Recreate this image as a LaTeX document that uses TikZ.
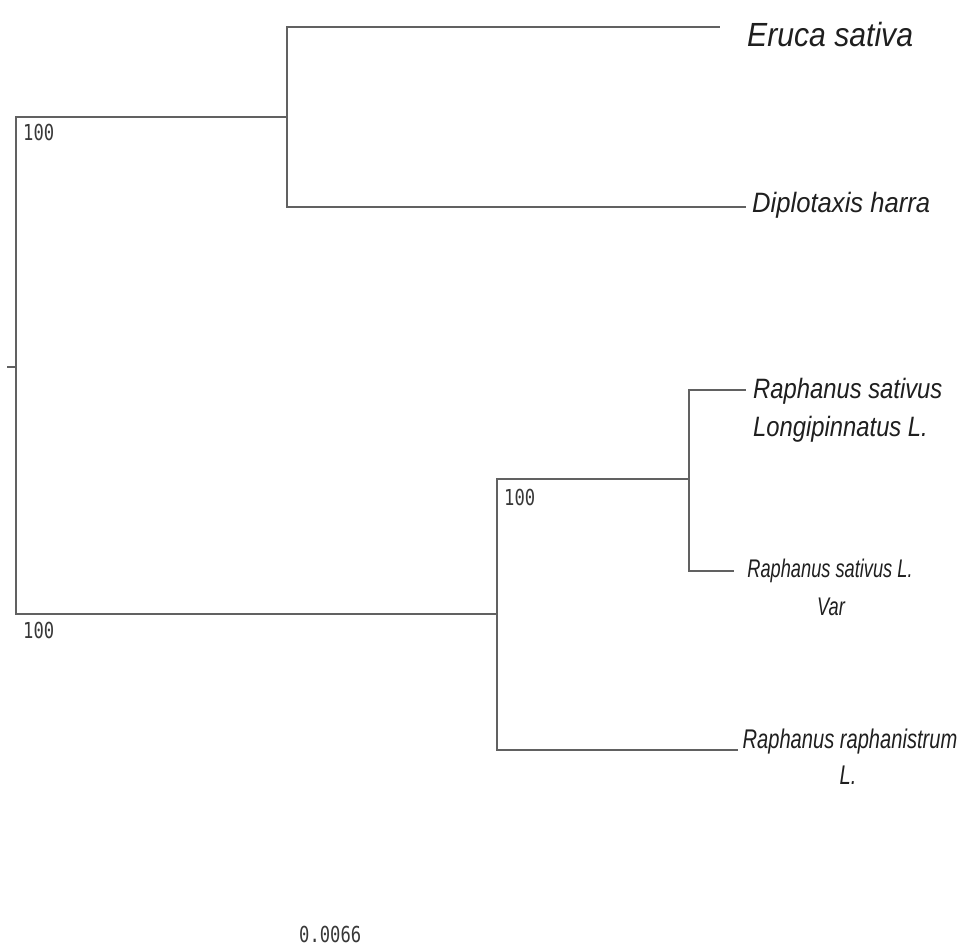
\documentclass[tikz,border=0pt]{standalone}
\usepackage{fontspec}
\newfontfamily\labA[FakeStretch=0.90]{Liberation Sans}
\newfontfamily\labB[FakeStretch=0.915]{Liberation Sans}
\newfontfamily\labC[FakeStretch=0.85]{Liberation Sans}
\newfontfamily\labD[FakeStretch=0.715]{Liberation Sans}
\newfontfamily\labE[FakeStretch=0.745]{Liberation Sans}
\newfontfamily\numf[FakeStretch=0.78]{DejaVu Sans Mono}
\begin{document}
\begin{tikzpicture}[x=1pt,y=-1pt,
  branch/.style={draw=black!62, line width=1.8pt, line cap=rect},
  leaflab/.style={inner sep=0pt, text=black!88},
  boot/.style={inner sep=0pt, anchor=north west, text=black!78, font=\numf\fontsize{22}{22}\selectfont}]
\useasboundingbox[fill=white] (0,0) rectangle (973,949);
% internal node positions
\coordinate (stub) at (8,367);
\coordinate (root) at (16,367);
\coordinate (rtop) at (16,117);
\coordinate (rbot) at (16,614);
\coordinate (n1) at (287,117);
\coordinate (n1t) at (287,27);
\coordinate (n1b) at (287,207);
\coordinate (n2) at (497,614);
\coordinate (n2t) at (497,479);
\coordinate (n2b) at (497,750);
\coordinate (n3) at (689,479);
\coordinate (n3t) at (689,390);
\coordinate (n3b) at (689,571);
% leaf tips
\coordinate (eruca) at (719,27);
\coordinate (diplo) at (745,207);
\coordinate (rslong) at (745,390);
\coordinate (rsvar) at (733,571);
\coordinate (rraph) at (737,750);
% branches
\draw[branch] (stub) -- (root);
\draw[branch] (rtop) -- (rbot);
\draw[branch] (rtop) -- (n1);
\draw[branch] (n1t) -- (n1b);
\draw[branch] (n1t) -- (eruca);
\draw[branch] (n1b) -- (diplo);
\draw[branch] (rbot) -- (n2);
\draw[branch] (n2t) -- (n2b);
\draw[branch] (n2t) -- (n3);
\draw[branch] (n3t) -- (n3b);
\draw[branch] (n3t) -- (rslong);
\draw[branch] (n3b) -- (rsvar);
\draw[branch] (n2b) -- (rraph);
% leaf labels
\node[leaflab, anchor=base west, font=\labA\itshape\fontsize{33.5}{33.5}\selectfont] (lab1) at (747,47) {Eruca sativa};
\node[leaflab, anchor=base west, font=\labB\itshape\fontsize{28}{28}\selectfont] (lab2) at (752,213) {Diplotaxis harra};
\node[leaflab, anchor=base west, font=\labC\itshape\fontsize{28}{28}\selectfont] (lab3a) at (753,398) {Raphanus sativus};
\node[leaflab, anchor=base west, font=\labC\itshape\fontsize{28}{28}\selectfont] (lab3b) at (753,436) {Longipinnatus L.};
\node[leaflab, anchor=base, font=\labD\itshape\fontsize{25.5}{25.5}\selectfont] (lab4a) at (830,577) {Raphanus sativus L.};
\node[leaflab, anchor=base, font=\labD\itshape\fontsize{25.5}{25.5}\selectfont] (lab4b) at (831,615) {Var};
\node[leaflab, anchor=base, font=\labE\itshape\fontsize{27}{27}\selectfont] (lab5a) at (850,748) {Raphanus raphanistrum};
\node[leaflab, anchor=base, font=\labE\itshape\fontsize{27}{27}\selectfont] (lab5b) at (848,784) {L.};
% bootstrap values
\node[boot] (b1) at (23,124) {100};
\node[boot] (b2) at (23,622) {100};
\node[boot] (b3) at (504,489) {100};
% scale
\node[boot] (scale) at (299,926) {0.0066};
\end{tikzpicture}
\end{document}
